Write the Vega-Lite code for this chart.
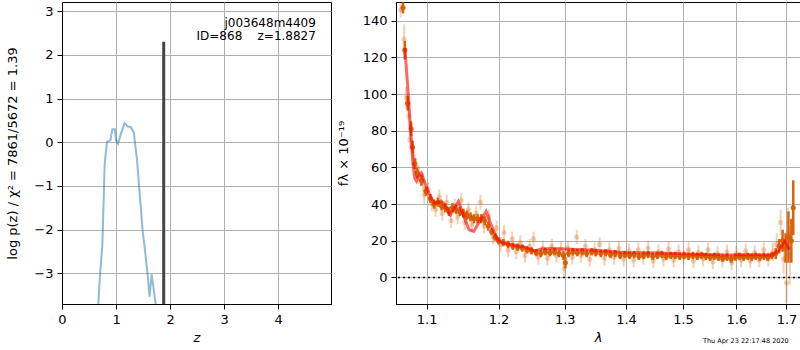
{
  "$schema": "https://vega.github.io/schema/vega-lite/v6.json",
  "padding": {"left": 6, "top": 0, "right": 0, "bottom": 0},
  "background": "white",
  "spacing": 4,
  "config": {
    "font": "DejaVu Sans",
    "view": {"stroke": "black", "strokeWidth": 1},
    "axis": {
      "grid": true, "gridColor": "#b0b0b0", "gridWidth": 1, "gridOpacity": 1,
      "domainColor": "black", "domainWidth": 1, "tickColor": "black", "tickSize": 5, "tickWidth": 1,
      "labelColor": "black", "labelFontSize": 13, "labelPadding": 4, "labelFont": "DejaVu Sans",
      "titleColor": "black", "titleFontSize": 13, "titleFontWeight": "normal", "titleFont": "DejaVu Sans",
      "labelFlush": false, "labelOverlap": false
    }
  },
  "datasets": {
    "pz": [
      {"z": 0.65, "logp": -4.2}, {"z": 0.70, "logp": -3.1}, {"z": 0.748, "logp": -2.32}, {"z": 0.79, "logp": -0.5},
      {"z": 0.833, "logp": 0.01}, {"z": 0.87, "logp": 0.03}, {"z": 0.896, "logp": 0.05}, {"z": 0.933, "logp": 0.30},
      {"z": 0.98, "logp": 0.30}, {"z": 1.0, "logp": 0.05}, {"z": 1.037, "logp": -0.03}, {"z": 1.087, "logp": 0.18},
      {"z": 1.16, "logp": 0.44}, {"z": 1.22, "logp": 0.36}, {"z": 1.27, "logp": 0.35}, {"z": 1.33, "logp": 0.22},
      {"z": 1.39, "logp": -0.42}, {"z": 1.44, "logp": -1.2}, {"z": 1.49, "logp": -2.0}, {"z": 1.53, "logp": -2.4},
      {"z": 1.59, "logp": -3.08}, {"z": 1.62, "logp": -3.53}, {"z": 1.66, "logp": -3.02}, {"z": 1.735, "logp": -3.7},
      {"z": 1.76, "logp": -4.1}
    ],
    "zbest": [{"z": 1.8827, "lo": -3.7, "hi": 2.3}],
    "raw": [
      {"lam": 1.066, "f": 146, "err": 4}, {"lam": 1.0705, "f": 130, "err": 8}, {"lam": 1.073, "f": 98, "err": 6},
      {"lam": 1.0765, "f": 88, "err": 6}, {"lam": 1.078, "f": 75, "err": 5}, {"lam": 1.083, "f": 66, "err": 5},
      {"lam": 1.086, "f": 60, "err": 5}, {"lam": 1.090, "f": 56, "err": 5}, {"lam": 1.095, "f": 52, "err": 5},
      {"lam": 1.097, "f": 45, "err": 5}, {"lam": 1.102, "f": 48, "err": 4}, {"lam": 1.107, "f": 40, "err": 4},
      {"lam": 1.112, "f": 37, "err": 4}, {"lam": 1.117, "f": 44, "err": 4}, {"lam": 1.121, "f": 35, "err": 4},
      {"lam": 1.127, "f": 41, "err": 4}, {"lam": 1.133, "f": 31, "err": 4}, {"lam": 1.138, "f": 39, "err": 4},
      {"lam": 1.142, "f": 33, "err": 4}, {"lam": 1.147, "f": 42, "err": 4}, {"lam": 1.152, "f": 30, "err": 4},
      {"lam": 1.157, "f": 37, "err": 4}, {"lam": 1.162, "f": 29, "err": 4}, {"lam": 1.168, "f": 35, "err": 4},
      {"lam": 1.174, "f": 41, "err": 4}, {"lam": 1.179, "f": 28, "err": 4}, {"lam": 1.186, "f": 33, "err": 4},
      {"lam": 1.192, "f": 22, "err": 4}, {"lam": 1.197, "f": 27, "err": 4}, {"lam": 1.203, "f": 18, "err": 4},
      {"lam": 1.208, "f": 24.5, "err": 4}, {"lam": 1.214, "f": 15, "err": 4}, {"lam": 1.220, "f": 21, "err": 4},
      {"lam": 1.226, "f": 14, "err": 4}, {"lam": 1.232, "f": 19, "err": 4}, {"lam": 1.239, "f": 12, "err": 4},
      {"lam": 1.246, "f": 17, "err": 4}, {"lam": 1.252, "f": 21, "err": 4}, {"lam": 1.259, "f": 11, "err": 4},
      {"lam": 1.266, "f": 16, "err": 4}, {"lam": 1.273, "f": 10.5, "err": 4}, {"lam": 1.280, "f": 17, "err": 4},
      {"lam": 1.287, "f": 12, "err": 4}, {"lam": 1.294, "f": 15.5, "err": 4}, {"lam": 1.299, "f": 5, "err": 5},
      {"lam": 1.305, "f": 16, "err": 4}, {"lam": 1.312, "f": 11, "err": 4}, {"lam": 1.319, "f": 22, "err": 4},
      {"lam": 1.326, "f": 12, "err": 4}, {"lam": 1.333, "f": 17, "err": 4}, {"lam": 1.340, "f": 10, "err": 4},
      {"lam": 1.348, "f": 15, "err": 4}, {"lam": 1.356, "f": 18, "err": 4}, {"lam": 1.364, "f": 10.5, "err": 4},
      {"lam": 1.372, "f": 15, "err": 4}, {"lam": 1.380, "f": 11, "err": 4}, {"lam": 1.388, "f": 16, "err": 4},
      {"lam": 1.396, "f": 10, "err": 4}, {"lam": 1.405, "f": 14.5, "err": 4}, {"lam": 1.413, "f": 9.5, "err": 4},
      {"lam": 1.421, "f": 15, "err": 4}, {"lam": 1.430, "f": 11, "err": 4}, {"lam": 1.438, "f": 16, "err": 4},
      {"lam": 1.447, "f": 9, "err": 4}, {"lam": 1.456, "f": 14, "err": 4}, {"lam": 1.465, "f": 10, "err": 4},
      {"lam": 1.474, "f": 15.5, "err": 4}, {"lam": 1.483, "f": 9.5, "err": 4}, {"lam": 1.492, "f": 14, "err": 4},
      {"lam": 1.501, "f": 11, "err": 4}, {"lam": 1.510, "f": 15, "err": 4}, {"lam": 1.519, "f": 9, "err": 4},
      {"lam": 1.528, "f": 13.5, "err": 4}, {"lam": 1.537, "f": 10, "err": 4}, {"lam": 1.546, "f": 15, "err": 4},
      {"lam": 1.555, "f": 8.5, "err": 4}, {"lam": 1.564, "f": 13, "err": 4}, {"lam": 1.573, "f": 9.5, "err": 4},
      {"lam": 1.582, "f": 14, "err": 4}, {"lam": 1.591, "f": 8, "err": 4}, {"lam": 1.600, "f": 13, "err": 4},
      {"lam": 1.609, "f": 9.5, "err": 4}, {"lam": 1.618, "f": 14.5, "err": 4}, {"lam": 1.627, "f": 9, "err": 4},
      {"lam": 1.636, "f": 13.5, "err": 4}, {"lam": 1.645, "f": 9.5, "err": 4}, {"lam": 1.654, "f": 15, "err": 4},
      {"lam": 1.663, "f": 10, "err": 4}, {"lam": 1.672, "f": 14, "err": 5}, {"lam": 1.680, "f": 18, "err": 6},
      {"lam": 1.688, "f": 30, "err": 7}, {"lam": 1.694, "f": 10, "err": 8}, {"lam": 1.700, "f": -3, "err": 11},
      {"lam": 1.703, "f": 24, "err": 14}, {"lam": 1.707, "f": 12, "err": 16}
    ],
    "binned": [
      {"lam": 1.069, "f": 147, "err": 3}, {"lam": 1.0714, "f": 124, "err": 5}, {"lam": 1.0750, "f": 95, "err": 4},
      {"lam": 1.0795, "f": 81, "err": 4}, {"lam": 1.0815, "f": 71, "err": 3.5}, {"lam": 1.0845, "f": 62, "err": 3},
      {"lam": 1.0875, "f": 57, "err": 3}, {"lam": 1.0930, "f": 53, "err": 3}, {"lam": 1.0990, "f": 47, "err": 2.5},
      {"lam": 1.1050, "f": 43, "err": 2.5}, {"lam": 1.1100, "f": 40, "err": 2.5}, {"lam": 1.1150, "f": 41, "err": 2.5},
      {"lam": 1.1200, "f": 39, "err": 2.5}, {"lam": 1.1250, "f": 38, "err": 2.5}, {"lam": 1.1300, "f": 36, "err": 2.5},
      {"lam": 1.1350, "f": 38, "err": 2.5}, {"lam": 1.1400, "f": 37, "err": 2.5}, {"lam": 1.1450, "f": 36, "err": 2.5},
      {"lam": 1.1500, "f": 35, "err": 2.5}, {"lam": 1.1550, "f": 34, "err": 2.5}, {"lam": 1.1600, "f": 33, "err": 2.5},
      {"lam": 1.1650, "f": 32, "err": 2.5}, {"lam": 1.1700, "f": 32, "err": 2.5}, {"lam": 1.1750, "f": 32, "err": 2.5},
      {"lam": 1.1800, "f": 31, "err": 2.5}, {"lam": 1.1850, "f": 28, "err": 2.5}, {"lam": 1.1900, "f": 25, "err": 2},
      {"lam": 1.1950, "f": 22, "err": 2}, {"lam": 1.2000, "f": 20, "err": 2}, {"lam": 1.2070, "f": 19, "err": 2},
      {"lam": 1.2140, "f": 18, "err": 2}, {"lam": 1.2210, "f": 17, "err": 2}, {"lam": 1.2280, "f": 16.5, "err": 2},
      {"lam": 1.2350, "f": 16, "err": 2}, {"lam": 1.2420, "f": 15, "err": 2}, {"lam": 1.2490, "f": 14.5, "err": 2},
      {"lam": 1.2560, "f": 13.5, "err": 2}, {"lam": 1.2630, "f": 13, "err": 2}, {"lam": 1.2700, "f": 14, "err": 2},
      {"lam": 1.2770, "f": 13.5, "err": 2}, {"lam": 1.2840, "f": 14, "err": 2}, {"lam": 1.2910, "f": 13, "err": 2},
      {"lam": 1.2980, "f": 12, "err": 2.5}, {"lam": 1.3010, "f": 8, "err": 3}, {"lam": 1.3060, "f": 13, "err": 2},
      {"lam": 1.3130, "f": 14, "err": 2}, {"lam": 1.3200, "f": 13.5, "err": 2}, {"lam": 1.3280, "f": 14, "err": 2},
      {"lam": 1.3350, "f": 13, "err": 2}, {"lam": 1.3430, "f": 14, "err": 2}, {"lam": 1.3500, "f": 13.5, "err": 2},
      {"lam": 1.3580, "f": 13, "err": 2}, {"lam": 1.3660, "f": 13.5, "err": 2}, {"lam": 1.3740, "f": 12.5, "err": 2},
      {"lam": 1.3820, "f": 13, "err": 2}, {"lam": 1.3900, "f": 12, "err": 2}, {"lam": 1.3980, "f": 12.5, "err": 2},
      {"lam": 1.4060, "f": 12, "err": 2}, {"lam": 1.4140, "f": 12.5, "err": 2}, {"lam": 1.4220, "f": 11.5, "err": 2},
      {"lam": 1.4300, "f": 12, "err": 2}, {"lam": 1.4380, "f": 12.5, "err": 2}, {"lam": 1.4460, "f": 11.5, "err": 2},
      {"lam": 1.4540, "f": 12, "err": 2}, {"lam": 1.4620, "f": 12.5, "err": 2}, {"lam": 1.4700, "f": 11.5, "err": 2},
      {"lam": 1.4780, "f": 12, "err": 2}, {"lam": 1.4860, "f": 12, "err": 2}, {"lam": 1.4940, "f": 11.5, "err": 2},
      {"lam": 1.5020, "f": 12, "err": 2}, {"lam": 1.5100, "f": 11.5, "err": 2}, {"lam": 1.5180, "f": 12, "err": 2},
      {"lam": 1.5260, "f": 11.5, "err": 2}, {"lam": 1.5340, "f": 12, "err": 2}, {"lam": 1.5420, "f": 11.5, "err": 2},
      {"lam": 1.5500, "f": 11, "err": 2}, {"lam": 1.5580, "f": 11.5, "err": 2}, {"lam": 1.5660, "f": 11, "err": 2},
      {"lam": 1.5740, "f": 10.5, "err": 2}, {"lam": 1.5820, "f": 11, "err": 2}, {"lam": 1.5900, "f": 10, "err": 2},
      {"lam": 1.5980, "f": 11, "err": 2}, {"lam": 1.6060, "f": 11.5, "err": 2}, {"lam": 1.6140, "f": 11, "err": 2},
      {"lam": 1.6220, "f": 11.5, "err": 2}, {"lam": 1.6300, "f": 11, "err": 2}, {"lam": 1.6380, "f": 11.5, "err": 2},
      {"lam": 1.6460, "f": 11, "err": 2}, {"lam": 1.6540, "f": 11.5, "err": 2}, {"lam": 1.6620, "f": 11, "err": 2},
      {"lam": 1.6700, "f": 12, "err": 2}, {"lam": 1.6780, "f": 13, "err": 3}, {"lam": 1.6850, "f": 17, "err": 4},
      {"lam": 1.6920, "f": 20, "err": 6}, {"lam": 1.6980, "f": 16, "err": 8}, {"lam": 1.7040, "f": 22, "err": 14},
      {"lam": 1.7100, "f": 20, "err": 12}, {"lam": 1.7140, "f": 38, "err": 15}
    ],
    "model": [
      {"lam": 1.0714, "f": 125}, {"lam": 1.0750, "f": 105}, {"lam": 1.0792, "f": 79}, {"lam": 1.0820, "f": 62},
      {"lam": 1.0845, "f": 54}, {"lam": 1.0867, "f": 52.5}, {"lam": 1.0890, "f": 55}, {"lam": 1.0930, "f": 57},
      {"lam": 1.0990, "f": 50}, {"lam": 1.1058, "f": 43.4}, {"lam": 1.1102, "f": 40.5}, {"lam": 1.1160, "f": 41},
      {"lam": 1.1193, "f": 41.8}, {"lam": 1.1238, "f": 40}, {"lam": 1.1320, "f": 34.2}, {"lam": 1.1380, "f": 38},
      {"lam": 1.1430, "f": 41.4}, {"lam": 1.1500, "f": 34}, {"lam": 1.1580, "f": 26}, {"lam": 1.1646, "f": 25.1},
      {"lam": 1.1720, "f": 30}, {"lam": 1.1821, "f": 36}, {"lam": 1.1880, "f": 30}, {"lam": 1.1941, "f": 24.2},
      {"lam": 1.1990, "f": 20.5}, {"lam": 1.2080, "f": 18.5}, {"lam": 1.2185, "f": 17.8}, {"lam": 1.2384, "f": 16.6},
      {"lam": 1.2535, "f": 14.5}, {"lam": 1.2637, "f": 15.5}, {"lam": 1.2800, "f": 15.8}, {"lam": 1.3000, "f": 15.5},
      {"lam": 1.3427, "f": 14.9}, {"lam": 1.3982, "f": 13.6}, {"lam": 1.4560, "f": 13.3}, {"lam": 1.5160, "f": 12.7},
      {"lam": 1.5787, "f": 12.2}, {"lam": 1.6300, "f": 12.3}, {"lam": 1.6708, "f": 12.2}, {"lam": 1.6850, "f": 15},
      {"lam": 1.6967, "f": 19.6}, {"lam": 1.7062, "f": 15.1}
    ]
  },
  "hconcat": [
    {
      "width": 269,
      "height": 302,
      "layer": [
        {
          "data": {"name": "pz"},
          "mark": {"type": "line", "color": "#1f77b4", "opacity": 0.5, "strokeWidth": 2, "clip": true},
          "encoding": {
            "x": {"field": "z", "type": "quantitative",
                  "scale": {"domain": [0, 4.98], "nice": false, "zero": false},
                  "axis": {"title": "z", "values": [0, 1, 2, 3, 4], "titleFontStyle": "italic", "titlePadding": 5}},
            "y": {"field": "logp", "type": "quantitative",
                  "scale": {"domain": [-3.7, 3.21], "nice": false, "zero": false},
                  "axis": {"title": "log p(z) / χ² = 7861/5672 = 1.39", "values": [-3, -2, -1, 0, 1, 2, 3], "titlePadding": 14}}
          }
        },
        {
          "data": {"name": "zbest"},
          "mark": {"type": "rule", "color": "#444444", "strokeWidth": 3, "clip": true},
          "encoding": {
            "x": {"field": "z", "type": "quantitative"},
            "y": {"field": "lo", "type": "quantitative"},
            "y2": {"field": "hi"}
          }
        },
        {
          "data": {"values": [{"t": "j003648m4409"}]},
          "mark": {"type": "text", "align": "right", "baseline": "alphabetic", "fontSize": 12, "color": "black"},
          "encoding": {"x": {"datum": 4.70}, "y": {"datum": 2.64}, "text": {"field": "t"}}
        },
        {
          "data": {"values": [{"t": "ID=868\u00a0\u00a0\u00a0\u00a0z=1.8827"}]},
          "mark": {"type": "text", "align": "right", "baseline": "alphabetic", "fontSize": 12, "color": "black"},
          "encoding": {"x": {"datum": 4.70}, "y": {"datum": 2.35}, "text": {"field": "t"}}
        }
      ]
    },
    {
      "width": 404,
      "height": 302,
      "title": {"text": "Thu Apr 23 22:17:48 2020", "orient": "bottom", "anchor": "end", "fontSize": 6.5, "fontWeight": "normal", "color": "black", "offset": -6, "dx": -12},
      "layer": [
        {
          "data": {"name": "raw"},
          "mark": {"type": "errorbar", "color": "#d55e00", "opacity": 0.28, "thickness": 2},
          "encoding": {
            "x": {"field": "lam", "type": "quantitative", "title": "λ",
                  "scale": {"type": "log", "domain": [1.060, 1.728], "nice": false, "zero": false},
                  "axis": {"title": "λ", "values": [1.1, 1.2, 1.3, 1.4, 1.5, 1.6, 1.7], "format": ".1f", "titleFontStyle": "italic", "titlePadding": 5}},
            "y": {"field": "f", "type": "quantitative", "title": "fλ × 10⁻¹⁹",
                  "scale": {"domain": [-14.5, 150.2], "nice": false, "zero": false},
                  "axis": {"title": "fλ × 10⁻¹⁹", "values": [0, 20, 40, 60, 80, 100, 120, 140], "titlePadding": 12}},
            "yError": {"field": "err"}
          }
        },
        {
          "data": {"name": "raw"},
          "mark": {"type": "point", "filled": true, "color": "#d55e00", "opacity": 0.28, "size": 26, "clip": true},
          "encoding": {
            "x": {"field": "lam", "type": "quantitative", "title": "λ"},
            "y": {"field": "f", "type": "quantitative", "title": "fλ × 10⁻¹⁹"}
          }
        },
        {
          "data": {"name": "binned"},
          "mark": {"type": "errorbar", "color": "#d55e00", "opacity": 0.95, "thickness": 2.5},
          "encoding": {
            "x": {"field": "lam", "type": "quantitative", "title": "λ"},
            "y": {"field": "f", "type": "quantitative", "title": "fλ × 10⁻¹⁹"},
            "yError": {"field": "err"}
          }
        },
        {
          "data": {"name": "binned"},
          "mark": {"type": "point", "filled": true, "color": "#d55e00", "opacity": 0.95, "size": 26, "clip": true},
          "encoding": {
            "x": {"field": "lam", "type": "quantitative", "title": "λ"},
            "y": {"field": "f", "type": "quantitative", "title": "fλ × 10⁻¹⁹"}
          }
        },
        {
          "data": {"name": "model"},
          "mark": {"type": "line", "color": "red", "opacity": 0.6, "strokeWidth": 3, "clip": true},
          "encoding": {
            "x": {"field": "lam", "type": "quantitative", "title": "λ"},
            "y": {"field": "f", "type": "quantitative", "title": "fλ × 10⁻¹⁹"}
          }
        },
        {
          "data": {"values": [{}]},
          "mark": {"type": "rule", "color": "black", "strokeDash": [2, 3], "strokeWidth": 1.5},
          "encoding": {"y": {"datum": 0}}
        }
      ]
    }
  ]
}
